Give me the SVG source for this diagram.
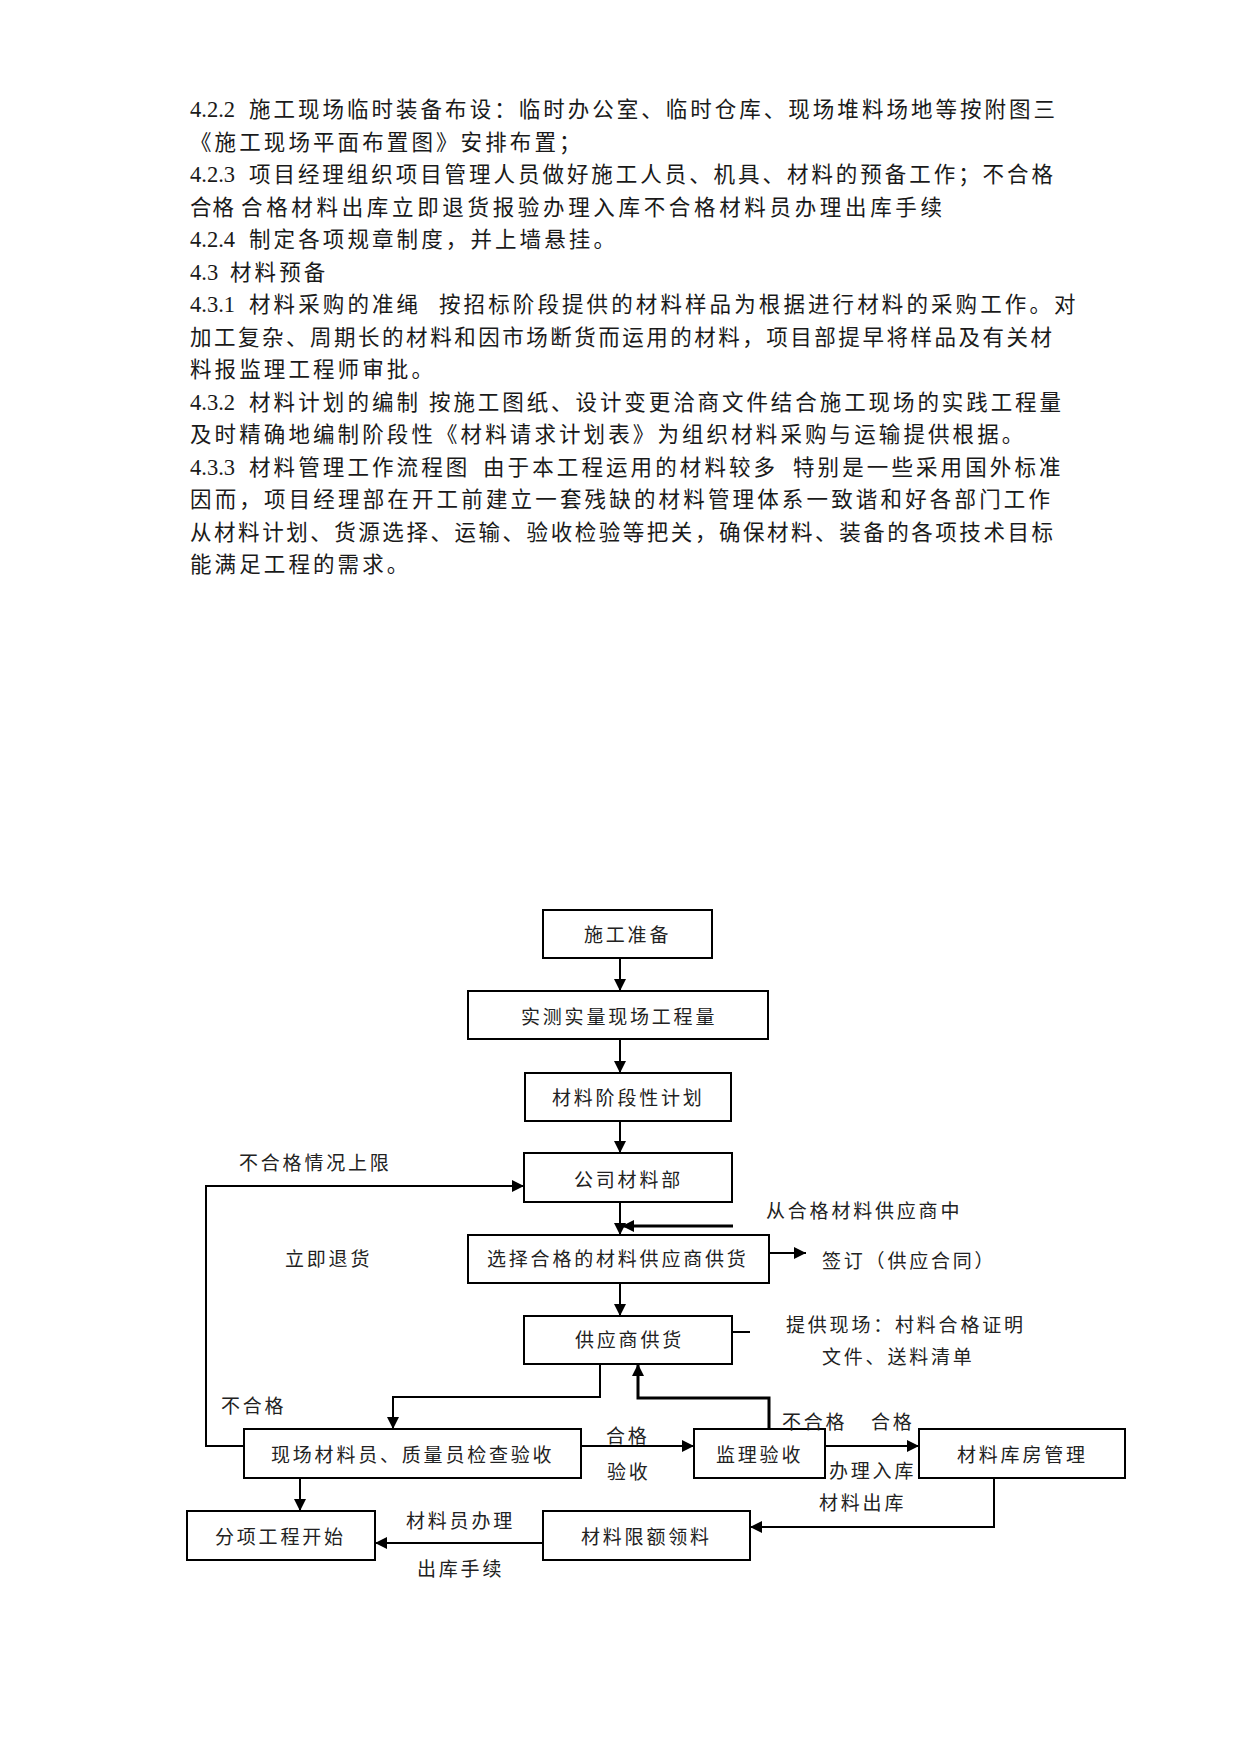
<svg xmlns="http://www.w3.org/2000/svg" width="1241" height="1754" viewBox="0 0 1241 1754">
<style>
.body{font-family:"Noto Sans CJK SC","Liberation Serif",sans-serif;font-size:21.5px;letter-spacing:3.1px;fill:#1a1a1a}
.lat{font-family:"Liberation Serif",serif;font-size:22.5px;letter-spacing:0;fill:#1a1a1a}
.lbl{font-family:"Noto Sans CJK SC","Liberation Sans",sans-serif;font-size:19px;letter-spacing:2.8px;fill:#222}
.box{fill:#fff;stroke:#000;stroke-width:2}
.ln{fill:none;stroke:#000;stroke-width:2}
.lnb{fill:none;stroke:#000;stroke-width:3}
</style>
<defs>
<marker id="ah" viewBox="0 0 10 10" refX="10" refY="5" markerWidth="12" markerHeight="12" markerUnits="userSpaceOnUse" orient="auto"><path d="M0,0 L10,5 L0,10 z" fill="#000"/></marker>
</defs>
<rect width="1241" height="1754" fill="#fff"/>

<g id="paragraphs">
<text y="117"><tspan class="lat" x="190">4.2.2</tspan><tspan class="body" x="249" textLength="806" lengthAdjust="spacing" style="letter-spacing:0">施工现场临时装备布设：临时办公室、临时仓库、现场堆料场地等按附图三</tspan></text>
<text class="body" x="190" y="149.5">《施工现场平面布置图》安排布置；</text>
<text y="182"><tspan class="lat" x="190">4.2.3</tspan><tspan class="body" x="249" textLength="804" lengthAdjust="spacing" style="letter-spacing:0">项目经理组织项目管理人员做好施工人员、机具、材料的预备工作；不合格</tspan></text>
<text y="214.5"><tspan class="body" x="190" style="letter-spacing:1px">合格</tspan><tspan class="body" x="241" textLength="701" lengthAdjust="spacing" style="letter-spacing:0">合格材料出库立即退货报验办理入库不合格材料员办理出库手续</tspan></text>
<text y="247"><tspan class="lat" x="190">4.2.4</tspan><tspan class="body" x="249">制定各项规章制度，并上墙悬挂。</tspan></text>
<text y="279.5"><tspan class="lat" x="190">4.3</tspan><tspan class="body" x="230">材料预备</tspan></text>
<text y="312"><tspan class="lat" x="190">4.3.1</tspan><tspan class="body" x="249">材料采购的准绳</tspan><tspan class="body" x="439">按招标阶段提供的材料样品为根据进行材料的采购工作。对</tspan></text>
<text class="body" x="190" y="344.5" textLength="862" lengthAdjust="spacing" style="letter-spacing:0">加工复杂、周期长的材料和因市场断货而运用的材料，项目部提早将样品及有关材</text>
<text class="body" x="190" y="377">料报监理工程师审批。</text>
<text y="409.5"><tspan class="lat" x="190">4.3.2</tspan><tspan class="body" x="249">材料计划的编制</tspan><tspan class="body" x="429" textLength="632" lengthAdjust="spacing" style="letter-spacing:0">按施工图纸、设计变更洽商文件结合施工现场的实践工程量</tspan></text>
<text class="body" x="190" y="442">及时精确地编制阶段性《材料请求计划表》为组织材料采购与运输提供根据。</text>
<text y="474.5"><tspan class="lat" x="190">4.3.3</tspan><tspan class="body" x="249">材料管理工作流程图</tspan><tspan class="body" x="483">由于本工程运用的材料较多</tspan><tspan class="body" x="793">特别是一些采用国外标准</tspan></text>
<text class="body" x="190" y="507" textLength="860" lengthAdjust="spacing" style="letter-spacing:0">因而，项目经理部在开工前建立一套残缺的材料管理体系一致谐和好各部门工作</text>
<text class="body" x="190" y="539.5" textLength="863" lengthAdjust="spacing" style="letter-spacing:0">从材料计划、货源选择、运输、验收检验等把关，确保材料、装备的各项技术目标</text>
<text class="body" x="190" y="572">能满足工程的需求。</text>
</g>

<g id="connectors">
<path class="ln" d="M620,958 V991" marker-end="url(#ah)"/>
<path class="ln" d="M620,1039 V1073" marker-end="url(#ah)"/>
<path class="ln" d="M620,1121 V1153" marker-end="url(#ah)"/>
<path class="ln" d="M620,1202 V1235" marker-end="url(#ah)"/>
<path class="lnb" d="M733,1226 H622" marker-end="url(#ah)"/>
<path class="ln" d="M769,1253 H806" marker-end="url(#ah)"/>
<path class="ln" d="M620,1283 V1316" marker-end="url(#ah)"/>
<path class="ln" d="M732,1332 H750"/>
<path class="ln" d="M244,1446 H206 V1186 H524" marker-end="url(#ah)"/>
<path class="ln" d="M600,1364 V1397 H393 V1429" marker-end="url(#ah)"/>
<path class="lnb" d="M769,1429 V1398 H638 V1364" marker-end="url(#ah)"/>
<path class="ln" d="M581,1446 H694" marker-end="url(#ah)"/>
<path class="ln" d="M825,1446 H919" marker-end="url(#ah)"/>
<path class="ln" d="M300,1478 V1511" marker-end="url(#ah)"/>
<path class="ln" d="M994,1478 V1527 H750" marker-end="url(#ah)"/>
<path class="ln" d="M543,1543 H375" marker-end="url(#ah)"/>
</g>

<g id="n1"><rect class="box" x="543" y="910" width="169" height="48"/><text class="lbl" x="584" y="942">施工准备</text></g>
<g id="n2"><rect class="box" x="468" y="991" width="300" height="48"/><text class="lbl" x="521" y="1024">实测实量现场工程量</text></g>
<g id="n3"><rect class="box" x="525" y="1073" width="206" height="48"/><text class="lbl" x="552" y="1105">材料阶段性计划</text></g>
<g id="n4"><rect class="box" x="524" y="1153" width="208" height="49"/><text class="lbl" x="574" y="1187">公司材料部</text></g>
<g id="n5"><rect class="box" x="468" y="1235" width="301" height="48"/><text class="lbl" x="487" y="1266">选择合格的材料供应商供货</text></g>
<g id="n6"><rect class="box" x="524" y="1316" width="208" height="48"/><text class="lbl" x="575" y="1347">供应商供货</text></g>
<g id="n7"><rect class="box" x="244" y="1429" width="337" height="49"/><text class="lbl" x="271" y="1462">现场材料员、质量员检查验收</text></g>
<g id="n8"><rect class="box" x="694" y="1429" width="131" height="49"/><text class="lbl" x="716" y="1462">监理验收</text></g>
<g id="n9"><rect class="box" x="919" y="1429" width="206" height="49"/><text class="lbl" x="957" y="1462">材料库房管理</text></g>
<g id="n10"><rect class="box" x="187" y="1511" width="188" height="49"/><text class="lbl" x="215" y="1544">分项工程开始</text></g>
<g id="n11"><rect class="box" x="543" y="1511" width="207" height="49"/><text class="lbl" x="581" y="1544">材料限额领料</text></g>

<g id="labels">
<text class="lbl" x="239" y="1170">不合格情况上限</text>
<text class="lbl" x="285" y="1266">立即退货</text>
<text class="lbl" x="766" y="1218">从合格材料供应商中</text>
<text class="lbl" x="822" y="1268">签订（供应合同）</text>
<text class="lbl" x="786" y="1332">提供现场：村料合格证明</text>
<text class="lbl" x="822" y="1364">文件、送料清单</text>
<text class="lbl" x="221" y="1413">不合格</text>
<text class="lbl" x="606" y="1443">合格</text>
<text class="lbl" x="607" y="1479">验收</text>
<text class="lbl" x="782" y="1429">不合格</text>
<text class="lbl" x="871" y="1429">合格</text>
<text class="lbl" x="829" y="1478">办理入库</text>
<text class="lbl" x="819" y="1510">材料出库</text>
<text class="lbl" x="406" y="1528">材料员办理</text>
<text class="lbl" x="417" y="1576">出库手续</text>
</g>
</svg>
